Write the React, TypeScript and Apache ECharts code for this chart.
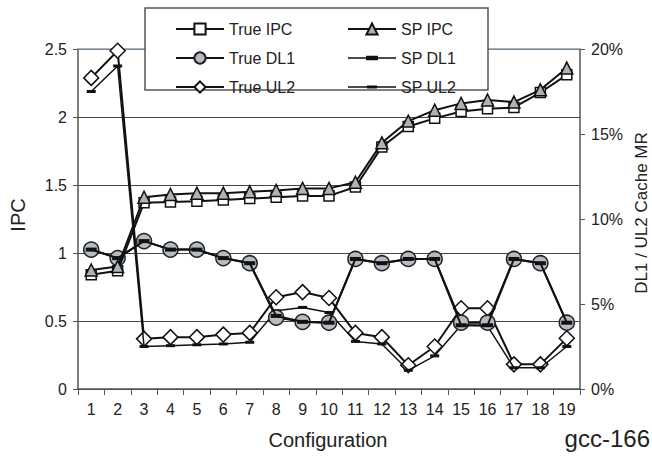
import React, { useEffect, useRef } from "react";
import * as echarts from "echarts";

const categories = ["1", "2", "3", "4", "5", "6", "7", "8", "9", "10", "11", "12", "13", "14", "15", "16", "17", "18", "19"];

// IPC (left axis)
const trueIPC = [0.84, 0.87, 1.37, 1.375, 1.38, 1.39, 1.4, 1.41, 1.42, 1.42, 1.485, 1.78, 1.93, 1.99, 2.04, 2.06, 2.07, 2.18, 2.31];
const spIPC = [0.875, 0.9, 1.41, 1.43, 1.44, 1.44, 1.45, 1.46, 1.475, 1.475, 1.52, 1.81, 1.97, 2.05, 2.1, 2.125, 2.11, 2.2, 2.36];

// Cache miss rates in % (right axis)
const trueDL1 = [8.2, 7.7, 8.7, 8.2, 8.2, 7.7, 7.4, 4.2, 3.95, 3.9, 7.65, 7.4, 7.65, 7.65, 3.9, 3.9, 7.65, 7.4, 3.9];
const spDL1 = [8.2, 7.7, 8.7, 8.2, 8.2, 7.7, 7.4, 4.3, 3.95, 3.9, 7.65, 7.4, 7.65, 7.65, 3.75, 3.75, 7.65, 7.4, 3.9];
const trueUL2 = [18.3, 19.9, 2.95, 3.05, 3.05, 3.2, 3.3, 5.4, 5.7, 5.35, 3.3, 3.05, 1.4, 2.5, 4.75, 4.75, 1.45, 1.45, 2.98];
const spUL2 = [17.5, 19.0, 2.5, 2.55, 2.6, 2.65, 2.75, 4.6, 4.8, 4.5, 2.8, 2.65, 1.1, 1.95, 3.75, 3.7, 1.25, 1.25, 2.5];

const ipcRange = { min: 0, max: 2.5, interval: 0.5 };
const mrRange = { min: 0, max: 20, interval: 5 };

const legendLeft = ["True IPC", "True DL1", "True UL2"];
const legendRight = ["SP IPC", "SP DL1", "SP UL2"];

export default function App() {
  const ref = useRef<HTMLDivElement>(null);
  useEffect(() => {
    const chart = echarts.init(ref.current!, undefined, { renderer: "svg" });
    const font = "'Liberation Sans', Arial, sans-serif";
    const ink = "#111";
    const axisCol = "#555";
    const lineW = 2;
    const dashIconThick = "path://M0 0 L0.01 0 L0 0.01 Z M48 14 L47.99 14 L48 13.99 Z M0 6.2 L48 6.2 L48 7.8 L0 7.8 Z M18 4.8 L30 4.8 L30 9.2 L18 9.2 Z";
    const dashIconThin = "path://M0 0 L0.01 0 L0 0.01 Z M48 14 L47.99 14 L48 13.99 Z M0 6.3 L48 6.3 L48 7.7 L0 7.7 Z M19 5.5 L29 5.5 L29 8.5 L19 8.5 Z";
    const legendCommon = {
      orient: "vertical",
      top: 16,
      z: 20,
      itemWidth: 48,
      itemHeight: 14,
      itemGap: 13,
      selectedMode: false,
      textStyle: { fontSize: 16, color: "#222", fontFamily: font },
    };
    chart.setOption({
      animation: false,
      backgroundColor: "#fff",
      textStyle: { fontFamily: font },
      grid: { left: 78, right: 72, top: 49, bottom: 73 },
      legend: [
        { ...legendCommon, left: 170, data: legendLeft },
        {
          ...legendCommon,
          left: 342,
          data: [
            legendRight[0],
            { name: legendRight[1], icon: dashIconThick },
            { name: legendRight[2], icon: dashIconThin },
          ],
        },
      ],
      xAxis: {
        type: "category",
        data: categories,
        boundaryGap: true,
        axisLine: { show: true, lineStyle: { color: axisCol, width: 1.5 } },
        axisTick: { show: true, length: 6, lineStyle: { color: axisCol } },
        axisLabel: { fontSize: 16, color: "#222", margin: 12, interval: 0 },
        splitLine: { show: false },
      },
      yAxis: [
        {
          type: "value",
          ...ipcRange,
          axisLine: { show: true, lineStyle: { color: axisCol, width: 1.5 } },
          axisTick: { show: true, length: 5, lineStyle: { color: axisCol } },
          axisLabel: { fontSize: 16, color: "#222", margin: 11 },
          splitLine: { show: true, lineStyle: { color: "#444", width: 1 } },
        },
        {
          type: "value",
          position: "right",
          ...mrRange,
          axisLine: { show: true, lineStyle: { color: axisCol, width: 1.5 } },
          axisTick: { show: true, length: 5, lineStyle: { color: axisCol } },
          axisLabel: { fontSize: 16, color: "#222", margin: 11, formatter: "{value}%" },
          splitLine: { show: false },
        },
      ],
      series: [
        {
          name: "True UL2",
          type: "line",
          yAxisIndex: 1,
          data: trueUL2,
          symbol: "diamond",
          symbolSize: 15,
          itemStyle: { color: "#fff", borderColor: ink, borderWidth: 1.5 },
          lineStyle: { color: ink, width: lineW },
          z: 2,
        },
        {
          name: "SP UL2",
          type: "line",
          yAxisIndex: 1,
          data: spUL2,
          symbol: "rect",
          symbolSize: [9, 3],
          itemStyle: { color: ink },
          lineStyle: { color: ink, width: 1.5 },
          z: 3,
        },
        {
          name: "True DL1",
          type: "line",
          yAxisIndex: 1,
          data: trueDL1,
          symbol: "circle",
          symbolSize: 15,
          itemStyle: { color: "#b6bcc4", borderColor: "#222", borderWidth: 1.5 },
          lineStyle: { color: ink, width: lineW },
          z: 4,
        },
        {
          name: "SP DL1",
          type: "line",
          yAxisIndex: 1,
          data: spDL1,
          symbol: "rect",
          symbolSize: [11, 4],
          itemStyle: { color: ink },
          lineStyle: { color: ink, width: lineW },
          z: 5,
        },
        {
          name: "True IPC",
          type: "line",
          yAxisIndex: 0,
          data: trueIPC,
          symbol: "rect",
          symbolSize: 10,
          itemStyle: { color: "#fff", borderColor: ink, borderWidth: 1.5 },
          lineStyle: { color: ink, width: lineW },
          z: 6,
        },
        {
          name: "SP IPC",
          type: "line",
          yAxisIndex: 0,
          data: spIPC,
          symbol: "triangle",
          symbolSize: 12,
          itemStyle: { color: "#aab2ba", borderColor: ink, borderWidth: 1.5 },
          lineStyle: { color: ink, width: lineW },
          z: 7,
        },
      ],
      graphic: [
        {
          type: "line",
          z: 1,
          shape: { x1: 78, y1: 49, x2: 580, y2: 49 },
          style: { stroke: "#8c9cac", lineWidth: 1.5 },
        },
        {
          type: "rect",
          z: 8,
          shape: { x: 145, y: 8, width: 343, height: 82 },
          style: { fill: "#fff", stroke: "#555", lineWidth: 1.5 },
        },
        {
          type: "text",
          z: 9,
          x: 18,
          y: 215,
          rotation: Math.PI / 2,
          style: { text: "IPC", fontSize: 20, fontFamily: font, fill: "#222", align: "center", verticalAlign: "middle" },
        },
        {
          type: "text",
          z: 9,
          x: 641,
          y: 213,
          rotation: Math.PI / 2,
          style: { text: "DL1 / UL2 Cache MR", fontSize: 17, fontFamily: font, fill: "#222", align: "center", verticalAlign: "middle" },
        },
        {
          type: "text",
          z: 9,
          x: 328,
          y: 440,
          style: { text: "Configuration", fontSize: 20, fontFamily: font, fill: "#222", align: "center", verticalAlign: "middle" },
        },
        {
          type: "text",
          z: 9,
          x: 650,
          y: 438,
          style: { text: "gcc-166", fontSize: 24, fontFamily: font, fill: "#222", align: "right", verticalAlign: "middle" },
        },
      ],
    });
    return () => chart.dispose();
  }, []);
  return (
    <div
      ref={ref}
      style={{ position: "absolute", left: 0, top: 0, width: 652, height: 462, background: "#fff" }}
    />
  );
}
